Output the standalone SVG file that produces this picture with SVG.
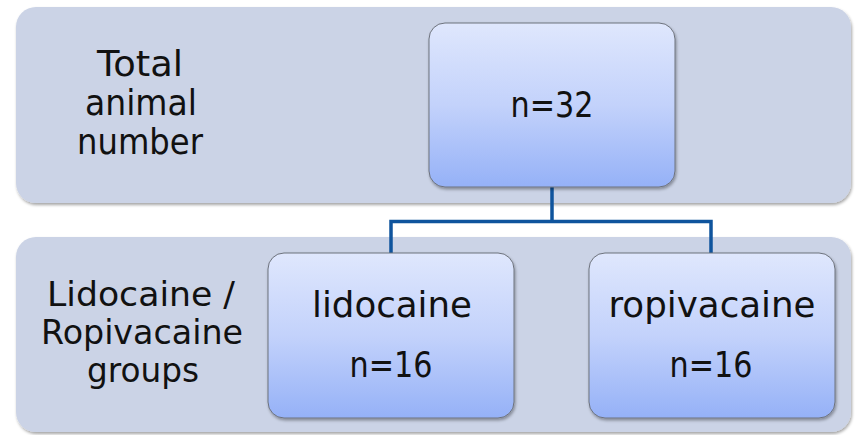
<svg xmlns="http://www.w3.org/2000/svg" width="856" height="435" viewBox="0 0 856 435">
  <style>
    .band { fill: #cbd3e6; filter: url(#sh); }
    .node { fill: url(#ng); stroke: #6d727c; stroke-width: 1; filter: url(#sh); }
    .lbl { font-family: "DejaVu Sans", "Liberation Sans", sans-serif; font-size: 35px; fill: #111; text-anchor: middle; }
    .lbl2 { font-family: "DejaVu Sans", "Liberation Sans", sans-serif; font-size: 33px; fill: #111; text-anchor: middle; }
    .ntx { font-family: "DejaVu Sans", "Liberation Sans", sans-serif; font-size: 36px; fill: #111; text-anchor: middle; }
    .conn { fill: none; stroke: #0f549d; stroke-width: 3.5; }
  </style>
  <defs>
    <linearGradient id="ng" x1="0" y1="0" x2="0" y2="1">
      <stop offset="0" stop-color="#dfe7fd"/>
      <stop offset="0.5" stop-color="#c3d2fb"/>
      <stop offset="1" stop-color="#95b1f7"/>
    </linearGradient>
    <filter id="sh" x="-5%" y="-5%" width="110%" height="115%">
      <feDropShadow dx="1" dy="2" stdDeviation="1.5" flood-color="#000" flood-opacity="0.35"/>
    </filter>
  </defs>
  <rect width="856" height="435" fill="#ffffff"/>

  <g id="band-total">
    <rect class="band" x="16" y="7" width="835" height="196" rx="20" ry="20"/>
    <text class="lbl"><tspan x="140" y="76" textLength="86" lengthAdjust="spacingAndGlyphs">Total</tspan><tspan x="141" y="115" textLength="112" lengthAdjust="spacingAndGlyphs">animal</tspan><tspan x="140" y="154" textLength="126" lengthAdjust="spacingAndGlyphs">number</tspan></text>
  </g>

  <g id="band-groups">
    <rect class="band" x="16" y="237" width="835" height="195" rx="20" ry="20"/>
    <text class="lbl2"><tspan x="141" y="306" textLength="188" lengthAdjust="spacingAndGlyphs">Lidocaine /</tspan><tspan x="142" y="344" textLength="202" lengthAdjust="spacingAndGlyphs">Ropivacaine</tspan><tspan x="143" y="382" textLength="112" lengthAdjust="spacingAndGlyphs">groups</tspan></text>
  </g>

  <g id="connectors">
    <path class="conn" d="M552 187 V221.5 M391 253 V221.5 H711 V253"/>
  </g>

  <g id="node-total">
    <rect class="node" x="429" y="23" width="246" height="164" rx="16" ry="16"/>
    <text class="ntx" x="552" y="117" textLength="83" lengthAdjust="spacingAndGlyphs">n=32</text>
  </g>

  <g id="node-lidocaine">
    <rect class="node" x="268" y="253" width="246" height="165" rx="16" ry="16"/>
    <text class="ntx" x="392" y="317" textLength="160" lengthAdjust="spacingAndGlyphs">lidocaine</text>
    <text class="ntx" x="391" y="377" textLength="83" lengthAdjust="spacingAndGlyphs">n=16</text>
  </g>

  <g id="node-ropivacaine">
    <rect class="node" x="589" y="253" width="246" height="165" rx="16" ry="16"/>
    <text class="ntx" x="712" y="317" textLength="207" lengthAdjust="spacingAndGlyphs">ropivacaine</text>
    <text class="ntx" x="711" y="377" textLength="83" lengthAdjust="spacingAndGlyphs">n=16</text>
  </g>
</svg>
